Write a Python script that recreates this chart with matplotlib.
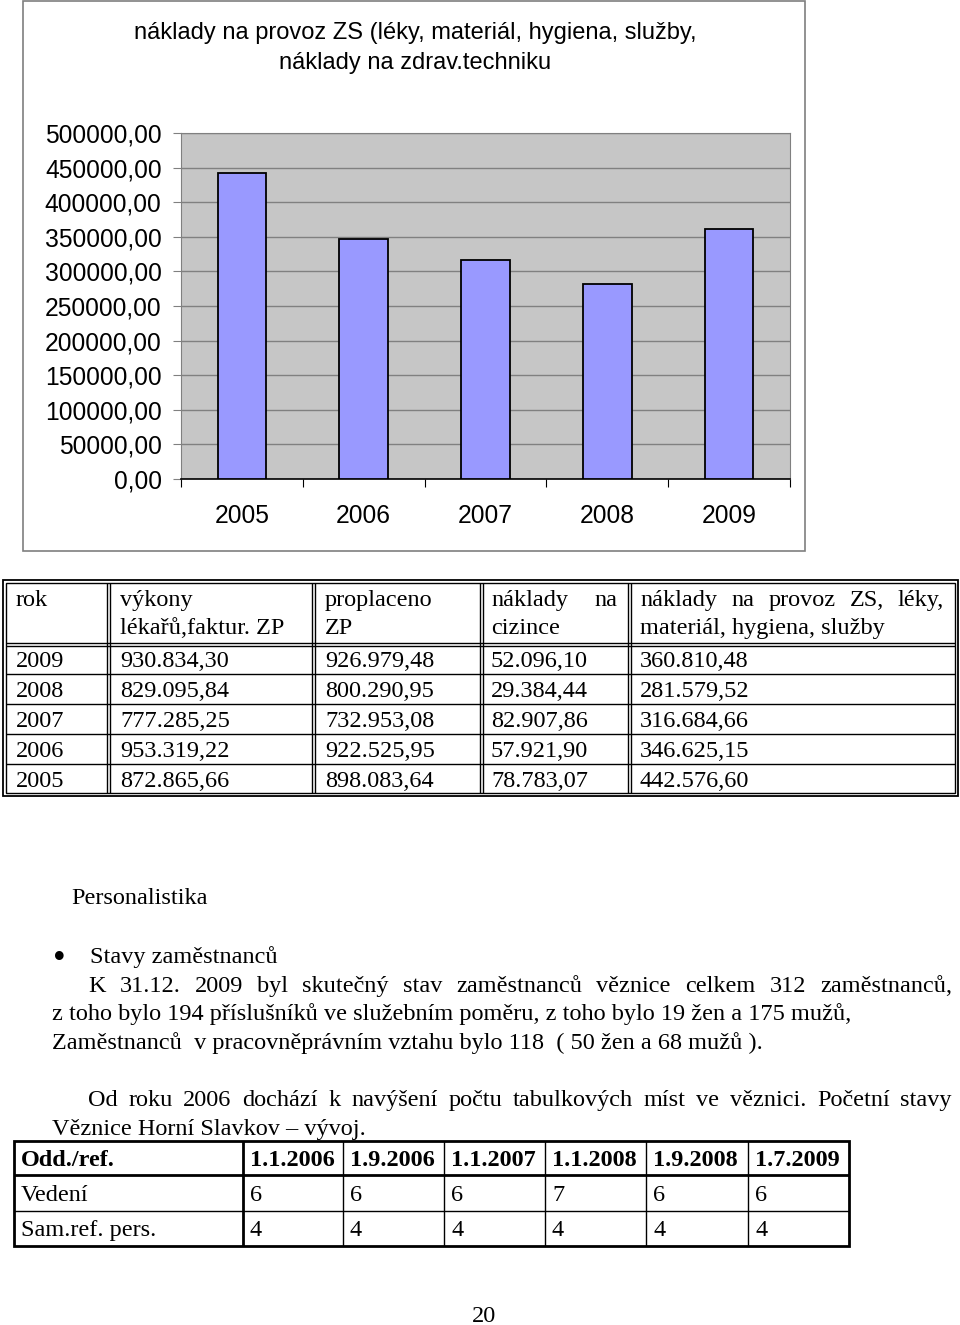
import matplotlib
matplotlib.use('Agg')
import matplotlib.pyplot as plt
from matplotlib.patches import Rectangle

# chart data (naklady na provoz ZS)
years = ['2005', '2006', '2007', '2008', '2009']
provoz_costs = [442576.60, 346625.15, 316684.66, 281579.52, 360810.48]
y_ticks = [0, 50000, 100000, 150000, 200000, 250000, 300000, 350000, 400000, 450000, 500000]

# first table
table1_years = ['2009', '2008', '2007', '2006', '2005']
vykony = ['930.834,30', '829.095,84', '777.285,25', '953.319,22', '872.865,66']
proplaceno = ['926.979,48', '800.290,95', '732.953,08', '922.525,95', '898.083,64']
cizinci = ['52.096,10', '29.384,44', '82.907,86', '57.921,90', '78.783,07']
provoz_text = ['360.810,48', '281.579,52', '316.684,66', '346.625,15', '442.576,60']

# second table
table2_header = ['Odd./ref.', '1.1.2006', '1.9.2006', '1.1.2007', '1.1.2008', '1.9.2008', '1.7.2009']
vedeni = [6, 6, 6, 7, 6, 6]
samref = [4, 4, 4, 4, 4, 4]

SERIF = 'Liberation Serif'
SANS = 'Liberation Sans'
FS = 17.5

fig = plt.figure(figsize=(9.6, 13.25), dpi=100)


def txt(ax, x, y, s, size=FS, **kw):
    # y is the visual middle of the line; place on a common baseline
    kw.setdefault('family', SERIF)
    kw.setdefault('ha', 'left')
    base = y + 0.235 * size * 100 / 72
    if kw['family'] == SERIF:
        base += 2
    return ax.text(x, base, s, fontsize=size, va='baseline', **kw)


def justify(ax, line, x0, x1, y, size=FS):
    # spread the words of one line between x0 and x1
    r = fig.canvas.get_renderer()
    words = line.split()
    texts = [txt(ax, 0, y, w, size) for w in words]
    widths = [t.get_window_extent(r).width for t in texts]
    gap = (x1 - x0 - sum(widths)) / (len(words) - 1)
    x = x0
    for t, w in zip(texts, widths):
        t.set_x(x)
        x += w + gap


def hline(ax, x0, x1, y, lw=1.0, c='black'):
    ax.plot([x0, x1], [y, y], color=c, lw=lw, solid_capstyle='butt')


def vline(ax, x, y0, y1, lw=1.0, c='black'):
    ax.plot([x, x], [y0, y1], color=c, lw=lw, solid_capstyle='butt')


def draw_chart():
    page = fig.axes[0]
    page.add_patch(Rectangle((23, 1), 782, 550, fill=False, ec='#7f7f7f', lw=1.2))
    txt(page, 415, 33, 'náklady na provoz ZS (léky, materiál, hygiena, služby,', 17, family=SANS, ha='center')
    txt(page, 415, 63, 'náklady na zdrav.techniku', 17, family=SANS, ha='center')

    ax = fig.add_axes([181 / 960, 1 - 479 / 1325, (790 - 181) / 960, (479 - 133) / 1325])
    ax.set_facecolor('#c6c6c6')
    ax.bar(range(len(years)), provoz_costs, width=0.4, color='#9999ff', edgecolor='black', lw=1.3, zorder=3)
    ax.set_xlim(-0.5, 4.5)
    ax.set_ylim(0, 500000)
    ax.set_yticks(y_ticks)
    ax.set_yticklabels(['%d,00' % v for v in y_ticks], family=SANS, fontsize=17.7)
    ax.yaxis.grid(True, color='#808080', lw=1.0)
    ax.set_axisbelow(True)
    ax.set_xticks([i - 0.5 for i in range(6)])
    ax.set_xticklabels([])
    ax.set_xticks(range(5), minor=True)
    ax.set_xticklabels(years, minor=True, family=SANS, fontsize=17.7)
    ax.tick_params(axis='x', which='minor', length=0, pad=18)
    ax.tick_params(axis='x', which='major', length=6, color='black', direction='out')
    ax.tick_params(axis='y', length=6, color='#808080', pad=8)
    for s in ['left', 'top', 'right']:
        ax.spines[s].set_color('#808080')
    ax.spines['bottom'].set_color('black')
    ax.spines['bottom'].set_linewidth(1.2)


def draw_table1(ax):
    top, bottom, left, right = 580, 796, 3, 958
    # outer double frame
    ax.add_patch(Rectangle((left, top), right - left, bottom - top, fill=False, ec='black', lw=1.3))
    ax.add_patch(Rectangle((left + 3, top + 3), right - left - 6, bottom - top - 6, fill=False, ec='black', lw=1.0))
    for x in [107, 312, 480, 628]:
        vline(ax, x, top + 3, bottom - 3)
        vline(ax, x + 3, top + 3, bottom - 3)
    hline(ax, left + 3, right - 3, 643)
    hline(ax, left + 3, right - 3, 646)
    for y in [674, 704, 734, 764]:
        hline(ax, left + 3, right - 3, y)

    txt(ax, 16, 598, 'rok')
    txt(ax, 120, 598, 'výkony')
    txt(ax, 120, 626, 'lékařů,faktur. ZP')
    txt(ax, 325, 598, 'proplaceno')
    txt(ax, 325, 626, 'ZP')
    justify(ax, 'náklady na', 491, 617, 598)
    txt(ax, 491, 626, 'cizince')
    justify(ax, 'náklady na provoz ZS, léky,', 640, 944, 598)
    txt(ax, 640, 626, 'materiál, hygiena, služby')

    cols = [table1_years, vykony, proplaceno, cizinci, provoz_text]
    xs = [16, 120, 325, 491, 640]
    for i in range(len(table1_years)):
        y = 659 + 30 * i
        for x, col in zip(xs, cols):
            txt(ax, x, y, col[i])


def draw_text(ax):
    txt(ax, 71, 896, 'Personalistika')
    txt(ax, 53, 958, '•', 26)
    txt(ax, 90, 955, 'Stavy zaměstnanců')
    justify(ax, 'K 31.12. 2009 byl skutečný stav zaměstnanců věznice celkem 312 zaměstnanců,', 88, 952, 984)
    txt(ax, 52, 1012, 'z toho bylo 194 příslušníků ve služebním poměru, z toho bylo 19 žen a 175 mužů,')
    txt(ax, 52, 1041, 'Zaměstnanců  v pracovněprávním vztahu bylo 118  ( 50 žen a 68 mužů ).')
    justify(ax, 'Od roku 2006 dochází k navýšení počtu tabulkových míst ve věznici. Početní stavy', 88, 952, 1098)
    txt(ax, 52, 1127, 'Věznice Horní Slavkov – vývoj.')
    txt(ax, 484, 1314, '20', ha='center')


def draw_table2(ax):
    xs = [14, 243, 343, 444, 545, 646, 748, 849]
    ys = [1141, 1175, 1211, 1246]
    ax.add_patch(Rectangle((xs[0], ys[0]), xs[-1] - xs[0], ys[-1] - ys[0], fill=False, ec='black', lw=2.0))
    hline(ax, xs[0], xs[-1], ys[1], lw=2.0)
    hline(ax, xs[0], xs[-1], ys[2], lw=1.0)
    vline(ax, xs[1], ys[0], ys[-1], lw=2.0)
    for x in xs[2:-1]:
        vline(ax, x, ys[0], ys[-1], lw=1.0)
    for j, h in enumerate(table2_header):
        txt(ax, xs[j] + 7, 1158, h, fontweight='bold')
    txt(ax, xs[0] + 7, 1193, 'Vedení')
    txt(ax, xs[0] + 7, 1228, 'Sam.ref. pers.')
    for j in range(len(vedeni)):
        txt(ax, xs[j + 1] + 7, 1193, str(vedeni[j]))
        txt(ax, xs[j + 1] + 7, 1228, str(samref[j]))


def main():
    page = fig.add_axes([0, 0, 1, 1])
    page.set_xlim(0, 960)
    page.set_ylim(1325, 0)
    page.axis('off')
    draw_chart()
    draw_table1(page)
    draw_text(page)
    draw_table2(page)
    fig.savefig('out.png', dpi=100, facecolor='white')


if __name__ == "__main__":
    main()
